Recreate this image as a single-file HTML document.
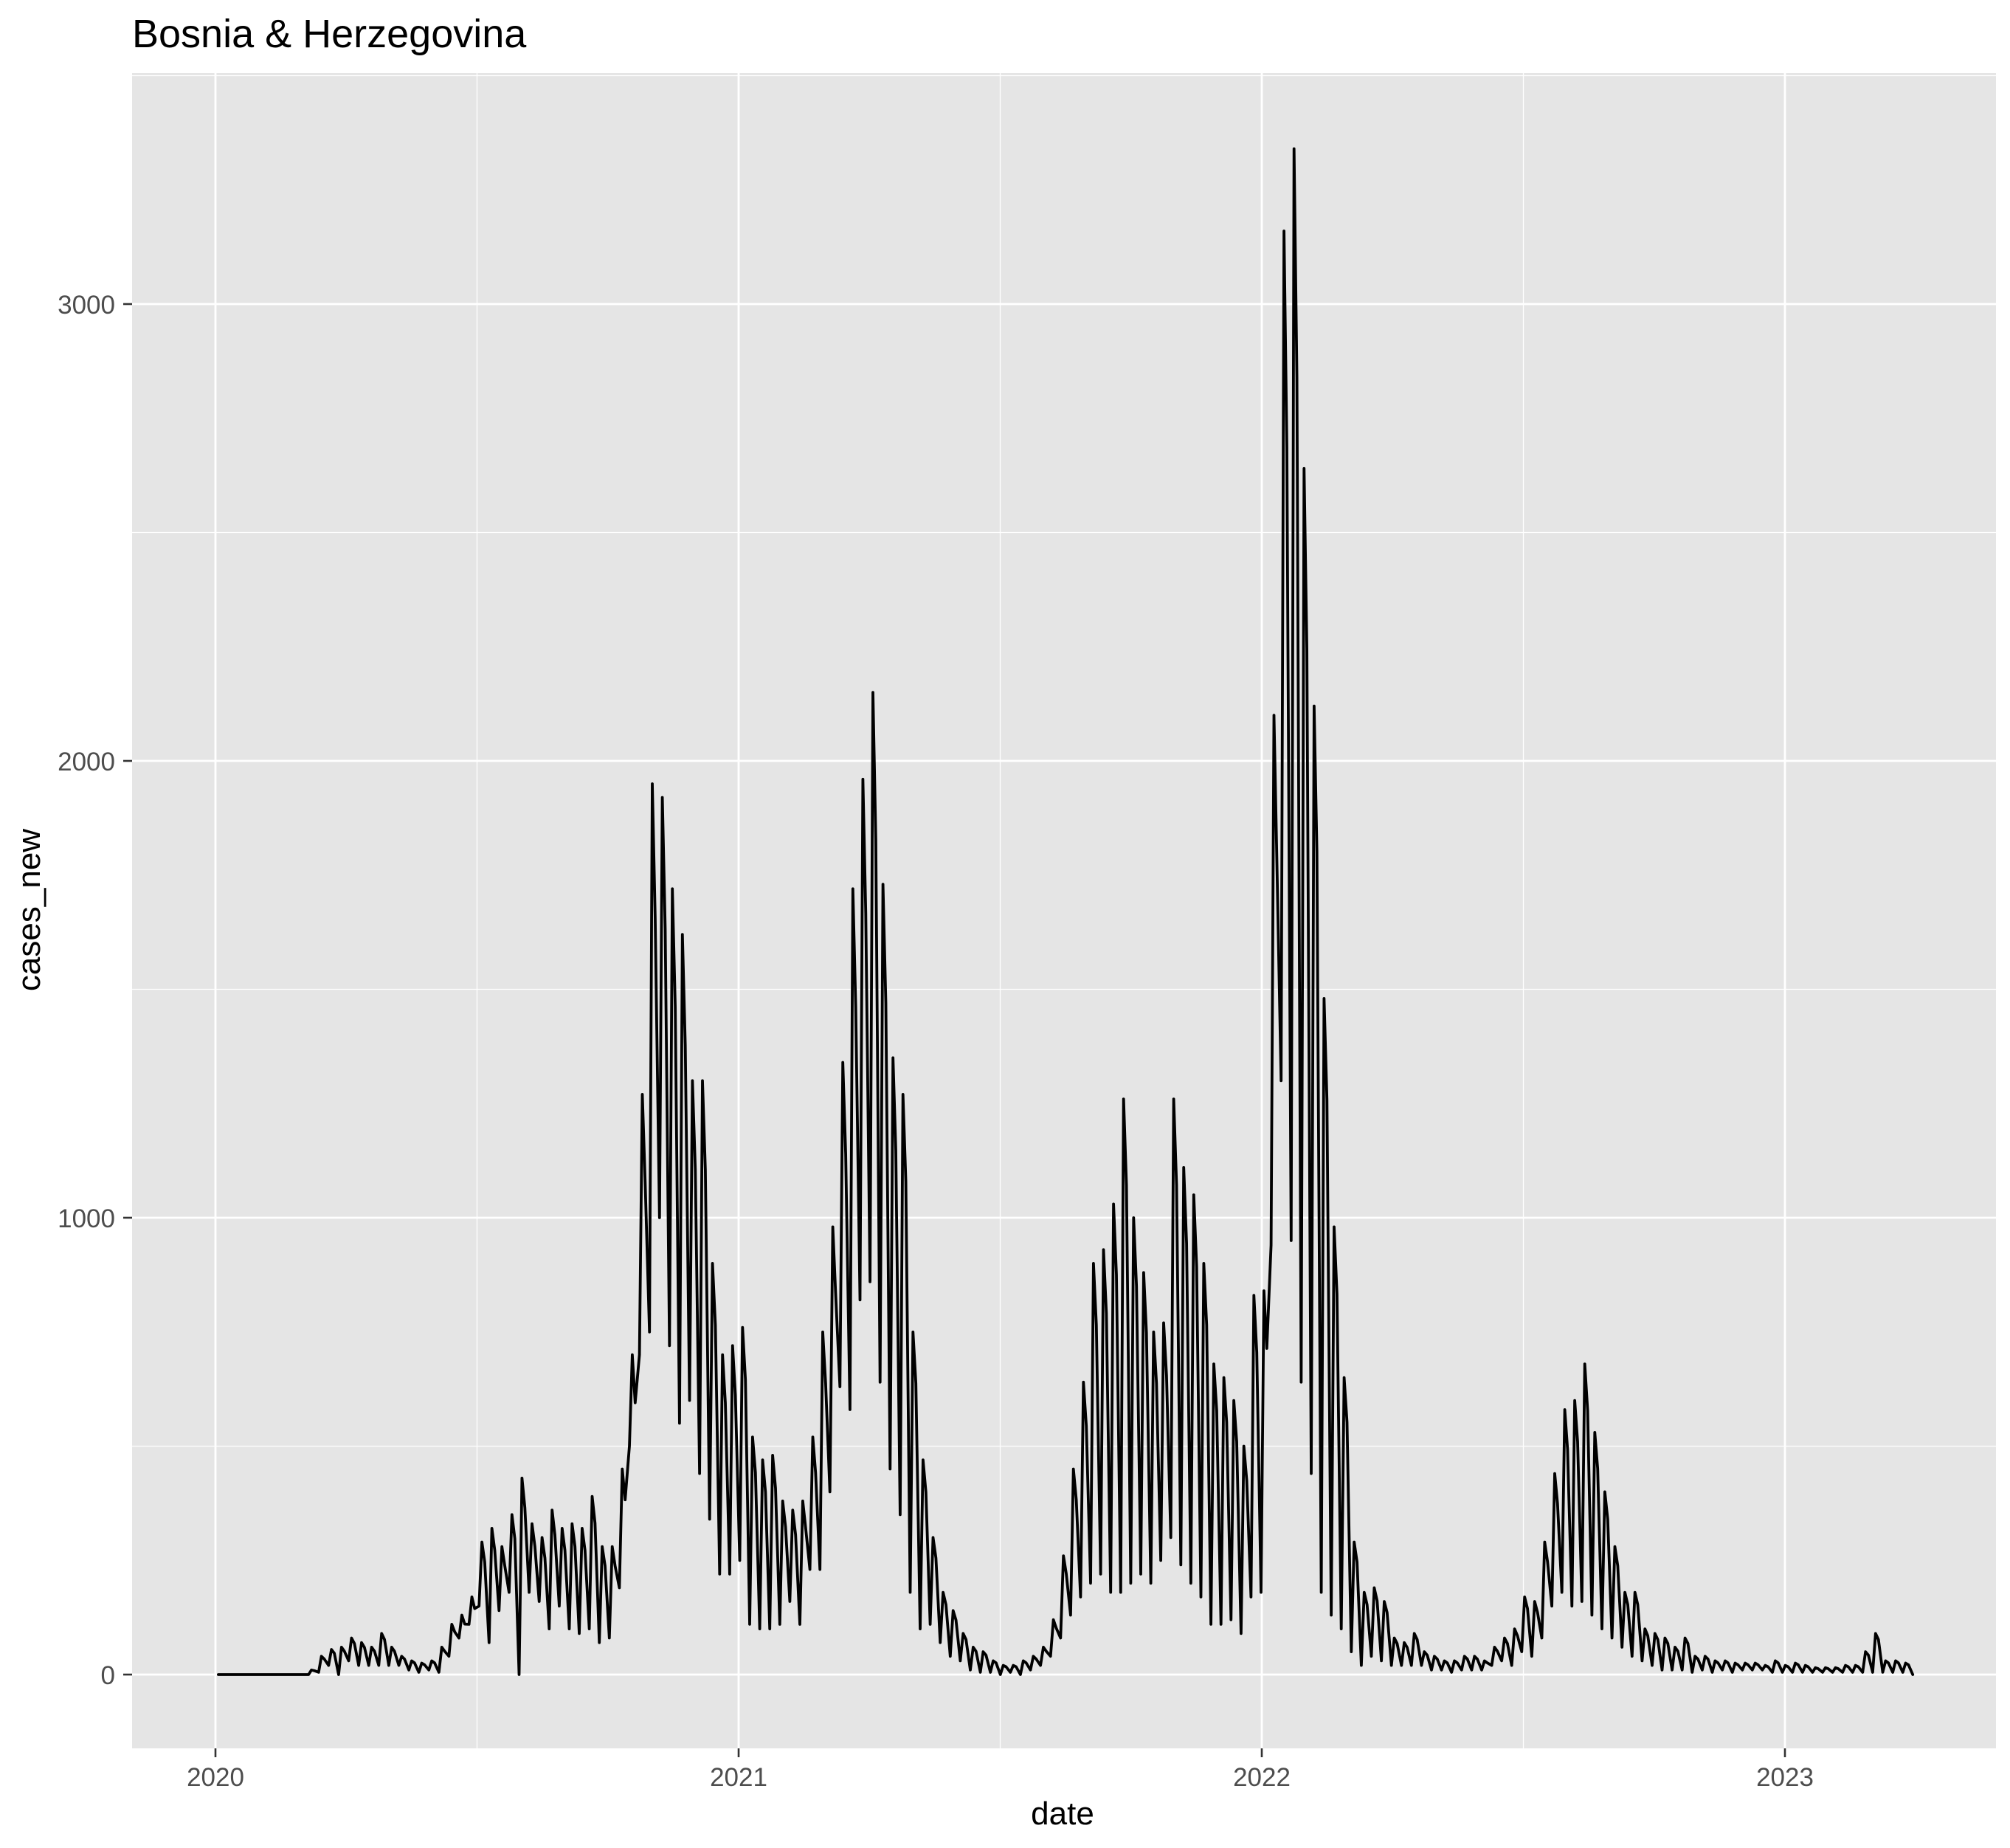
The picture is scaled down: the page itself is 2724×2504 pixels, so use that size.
<!DOCTYPE html>
<html><head><meta charset="utf-8">
<style>
html,body{margin:0;padding:0;background:#fff;}
svg{display:block;font-family:"Liberation Sans",Arial,sans-serif;}
</style></head>
<body>
<svg id="chart" width="2724" height="2504" viewBox="0 0 2724 2504" xmlns="http://www.w3.org/2000/svg">
<rect x="0" y="0" width="2724" height="2504" fill="#ffffff"/>
<text x="179" y="64" font-size="54" fill="#000">Bosnia &amp; Herzegovina</text>
<rect x="179" y="99" width="2526" height="2270" fill="#e5e5e5"/>
<g id="grid"></g>
<g id="axes"></g>
<path id="series" fill="none" stroke="#000" stroke-width="3.8" stroke-linejoin="round" stroke-linecap="round"/>
<text x="1440" y="2472" font-size="44" text-anchor="middle" fill="#000">date</text>
<text x="0" y="0" font-size="44" text-anchor="middle" fill="#000" transform="translate(54,1233) rotate(-90)">cases_new</text>
</svg>
<script>
// weekly high / low values of cases_new, week i starts at day offset 2 + 7*i from 2020-01-01
const weeklyHigh = [0,0,0,0,0,0,0,0,0,10,40,55,60,80,70,60,90,60,40,30,25,30,60,110,130,170,290,320,280,350,430,330,300,360,320,330,320,390,280,280,450,700,1270,1950,1920,1720,1620,1300,1300,900,700,720,760,520,470,480,380,360,380,520,750,980,1340,1720,1960,2150,1730,1350,1270,750,470,300,180,140,90,60,50,30,20,20,30,40,60,120,260,450,640,900,930,1030,1260,1000,880,750,770,1260,1110,1050,900,680,650,600,500,830,840,2100,3160,3340,2640,2120,1480,980,650,290,180,190,160,80,70,90,50,40,30,30,40,40,30,60,80,100,170,160,290,440,580,600,680,530,400,280,180,180,100,90,80,60,80,40,40,30,30,25,25,25,20,30,20,25,20,15,15,15,20,20,50,90,30,30,25];
const weeklyLow = [0,0,0,0,0,0,0,0,0,0,5,20,0,30,20,20,20,20,20,10,5,10,5,40,80,110,150,70,140,180,0,180,160,100,150,100,90,100,70,80,190,500,700,750,1000,720,550,600,440,340,220,220,250,110,100,100,110,160,110,230,230,400,630,580,820,860,640,450,350,180,100,110,70,40,30,10,5,5,0,5,0,10,20,40,80,130,170,200,220,180,180,200,220,200,250,300,240,200,170,110,110,120,90,170,180,940,1300,950,640,440,180,130,100,50,20,40,30,20,20,20,20,10,10,5,10,10,10,20,30,20,50,40,80,150,180,150,160,130,100,80,60,40,30,20,10,10,10,5,10,5,10,5,10,10,10,5,5,5,5,5,5,5,5,5,5,5,5,5,5];
const yTicks = [0,1000,2000,3000];
const yMinor = [500,1500,2500,3500];
const xTickYears = [2020,2021,2022,2023];
const xMinorYears = [2020.5,2021.5,2022.5];

const NS = "http://www.w3.org/2000/svg";
const X0 = 292, PX_PER_YEAR = 709;
const Y0 = 2269, PX_PER_UNIT = 0.619;
const PL = 179, PR = 2705, PT = 99, PB = 2369;
function xYear(yr){ return X0 + (yr - 2020) * PX_PER_YEAR; }
function xDay(d){ return X0 + d / 365.25 * PX_PER_YEAR; }
function yVal(v){ return Y0 - v * PX_PER_UNIT; }

const grid = document.getElementById('grid');
const axes = document.getElementById('axes');
function mk(tag, attrs, parent){
  const e = document.createElementNS(NS, tag);
  for (const k in attrs) e.setAttribute(k, attrs[k]);
  parent.appendChild(e);
  return e;
}
yMinor.forEach(v => {
  const y = yVal(v);
  if (y < PT || y > PB) return;
  const l = mk('line', {x1:PL, x2:PR, y1:y, y2:y, stroke:'#fff', 'stroke-width':1.3}, grid);
  
  
});
xMinorYears.forEach(yr => {
  const x = xYear(yr);
  const l = mk('line', {x1:x, x2:x, y1:PT, y2:PB, stroke:'#fff', 'stroke-width':1.3}, grid);
  
  
});
yTicks.forEach(v => {
  const y = yVal(v);
  const l = mk('line', {x1:PL, x2:PR, y1:y, y2:y, stroke:'#fff', 'stroke-width':2.8}, grid);
  
  
  const t = mk('line', {x1:PL-12, x2:PL, y1:y, y2:y, stroke:'#333', 'stroke-width':2.6}, axes);
  
  
  const lab = mk('text', {x:PL-23, y:y+13, 'font-size':35, 'text-anchor':'end', fill:'#4d4d4d'}, axes);
  lab.textContent = String(v);
  
  
});
xTickYears.forEach(yr => {
  const x = xYear(yr);
  const l = mk('line', {x1:x, x2:x, y1:PT, y2:PB, stroke:'#fff', 'stroke-width':2.8}, grid);
  
  
  const t = mk('line', {x1:x, x2:x, y1:PB, y2:PB+12, stroke:'#333', 'stroke-width':2.6}, axes);
  
  
  const lab = mk('text', {x:x, y:2420, 'font-size':35, 'text-anchor':'middle', fill:'#4d4d4d'}, axes);
  lab.textContent = String(yr);
  
  
});

let pts = [];
for (let i = 0; i < weeklyHigh.length; i++){
  const d = 2 + 7 * i;
  const hi = weeklyHigh[i], lo = weeklyLow[i];
  pts.push([xDay(d), yVal(lo)]);
  pts.push([xDay(d + 2), yVal(hi)]);
  pts.push([xDay(d + 4), yVal(hi * 0.85)]);
}
pts.push([xDay(2 + 7 * weeklyHigh.length), yVal(0)]);
document.getElementById('series').setAttribute('d', 'M' + pts.map(p => p[0].toFixed(1) + ',' + p[1].toFixed(1)).join('L'));
</script>
</body></html>
